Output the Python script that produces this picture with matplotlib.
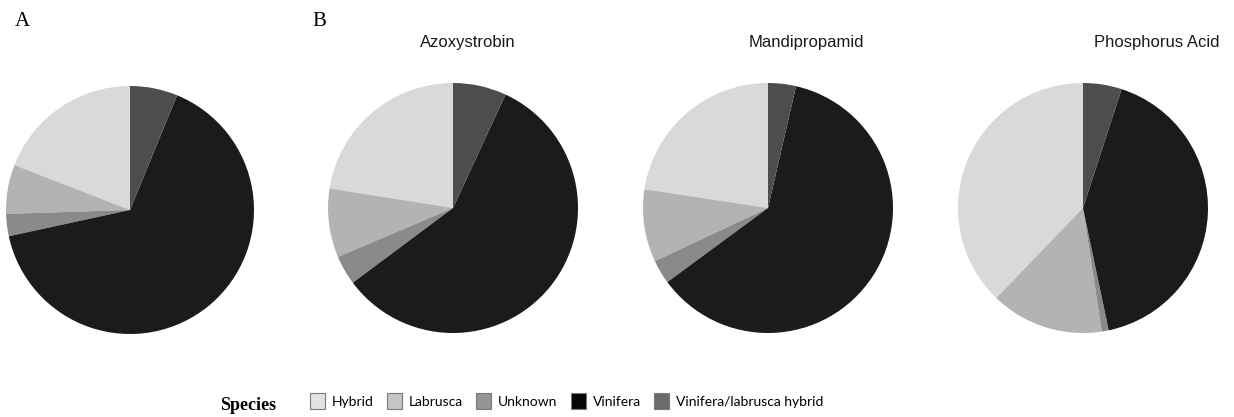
import matplotlib
matplotlib.use("Agg")
import matplotlib.pyplot as plt
from matplotlib.patches import Patch

# Species composition (% of isolates)
species = ["Hybrid", "Labrusca", "Unknown", "Vinifera", "Vinifera/labrusca hybrid"]
overall = [19.1, 6.4, 2.9, 65.4, 6.2]
azoxystrobin = [22.5, 8.9, 3.8, 57.9, 6.9]
mandipropamid = [22.6, 9.4, 3.1, 61.3, 3.6]
phosphorus_acid = [37.8, 14.6, 0.9, 41.7, 5.0]
panel_titles = ["", "Azoxystrobin", "Mandipropamid", "Phosphorus Acid"]

pie_colors = ["#d9d9d9", "#b3b3b3", "#8a8a8a", "#1b1b1b", "#4d4d4d"]
key_colors = ["#e2e2e2", "#c6c6c6", "#949494", "#050505", "#6b6b6b"]

W, H = 1234, 417
fig = plt.figure(figsize=(W / 100, H / 100), dpi=100)

# pie centres / radii in pixels, title centres in pixels
centres = [(130, 210, 124), (453, 208, 125), (768, 208, 125), (1083, 208, 125)]
title_x = [0, 468, 806, 1157]
datasets = [overall, azoxystrobin, mandipropamid, phosphorus_acid]

for (cx, cy, r), vals, title, tx in zip(centres, datasets, panel_titles, title_x):
    ax = fig.add_axes([(cx - r) / W, (H - cy - r) / H, 2 * r / W, 2 * r / H])
    ax.pie(vals, colors=pie_colors, startangle=90, counterclock=True,
           wedgeprops=dict(linewidth=0))
    ax.set_xlim(-1, 1)
    ax.set_ylim(-1, 1)
    ax.set_aspect("equal")
    ax.axis("off")
    if title:
        fig.text(tx / W, 1 - 42 / H, title, ha="center", va="center",
                 fontsize=12, family="Liberation Sans", color="#1a1a1a")

fig.text(15 / W, 1 - 22 / H, "A", ha="left", va="center", fontsize=15,
         family="Liberation Serif")
fig.text(312 / W, 1 - 21 / H, "B", ha="left", va="center", fontsize=15,
         family="Liberation Serif")

fig.text(220 / W, 1 - 405 / H, "Species", ha="left", va="center", fontsize=13,
         family="Liberation Serif", weight="bold")

handles = [Patch(facecolor=c, edgecolor="#7a7a7a", linewidth=0.8) for c in key_colors]
leg = fig.legend(handles, species, ncol=5, loc="center left",
                 bbox_to_anchor=(310 / W, 1 - 401 / H), frameon=False,
                 prop=dict(family="Lato", size=10), handlelength=1.08,
                 handleheight=1.3, handletextpad=0.5, columnspacing=0.95,
                 borderaxespad=0, borderpad=0)

fig.savefig("out.png", dpi=100, facecolor="white")
